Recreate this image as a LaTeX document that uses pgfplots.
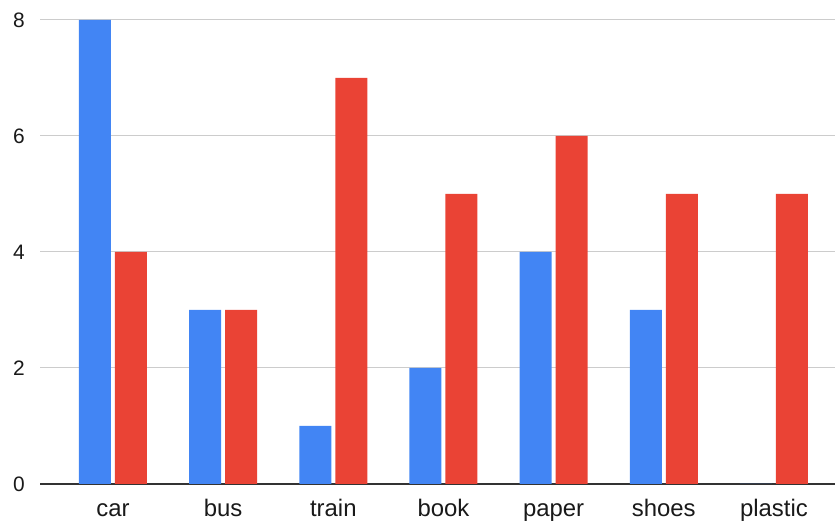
\documentclass[border=0pt]{standalone}
\usepackage{fontspec}
\setmainfont{Liberation Sans}
\usepackage{pgfplots}
\pgfplotsset{compat=1.18}

\definecolor{gblue}{HTML}{4285F4}
\definecolor{gred}{HTML}{EA4335}
\definecolor{gridgray}{HTML}{CCCCCC}
\definecolor{axisdark}{HTML}{333333}

\begin{document}
\begin{tikzpicture}
\useasboundingbox (-40bp,-39bp) rectangle (795bp,484bp);
\begin{axis}[
  scale only axis,
  width=795bp, height=464bp,
  ybar, bar width=32bp, ybar=4bp,
  xmin=-0.6624, xmax=6.554,
  ymin=0, ymax=8,
  xtick={0,1,2,3,4,5,6},
  xticklabels={car,bus,train,book,paper,shoes,plastic},
  ytick={2,4,6,8},
  extra y ticks={0},
  extra y tick style={grid style={color=axisdark, line width=1.3bp}},
  ymajorgrids,
  grid style={color=gridgray, line width=1bp},
  axis line style={draw=none},
  major tick length=0pt,
  tick style={draw=none},
  ticklabel style={text=black!90},
  x tick label style={font=\fontsize{24}{28}\selectfont, anchor=base, inner sep=0pt, yshift=-32bp},
  y tick label style={font=\fontsize{21}{25}\selectfont, anchor=east, inner sep=0pt, xshift=-15bp},
  /pgf/number format/assume math mode=true,
]
\addplot[fill=gblue, draw=none] coordinates {(0,8) (1,3) (2,1) (3,2) (4,4) (5,3) (6,0)};
\addplot[fill=gred, draw=none] coordinates {(0,4) (1,3) (2,7) (3,5) (4,6) (5,5) (6,5)};
\end{axis}
\end{tikzpicture}
\end{document}
